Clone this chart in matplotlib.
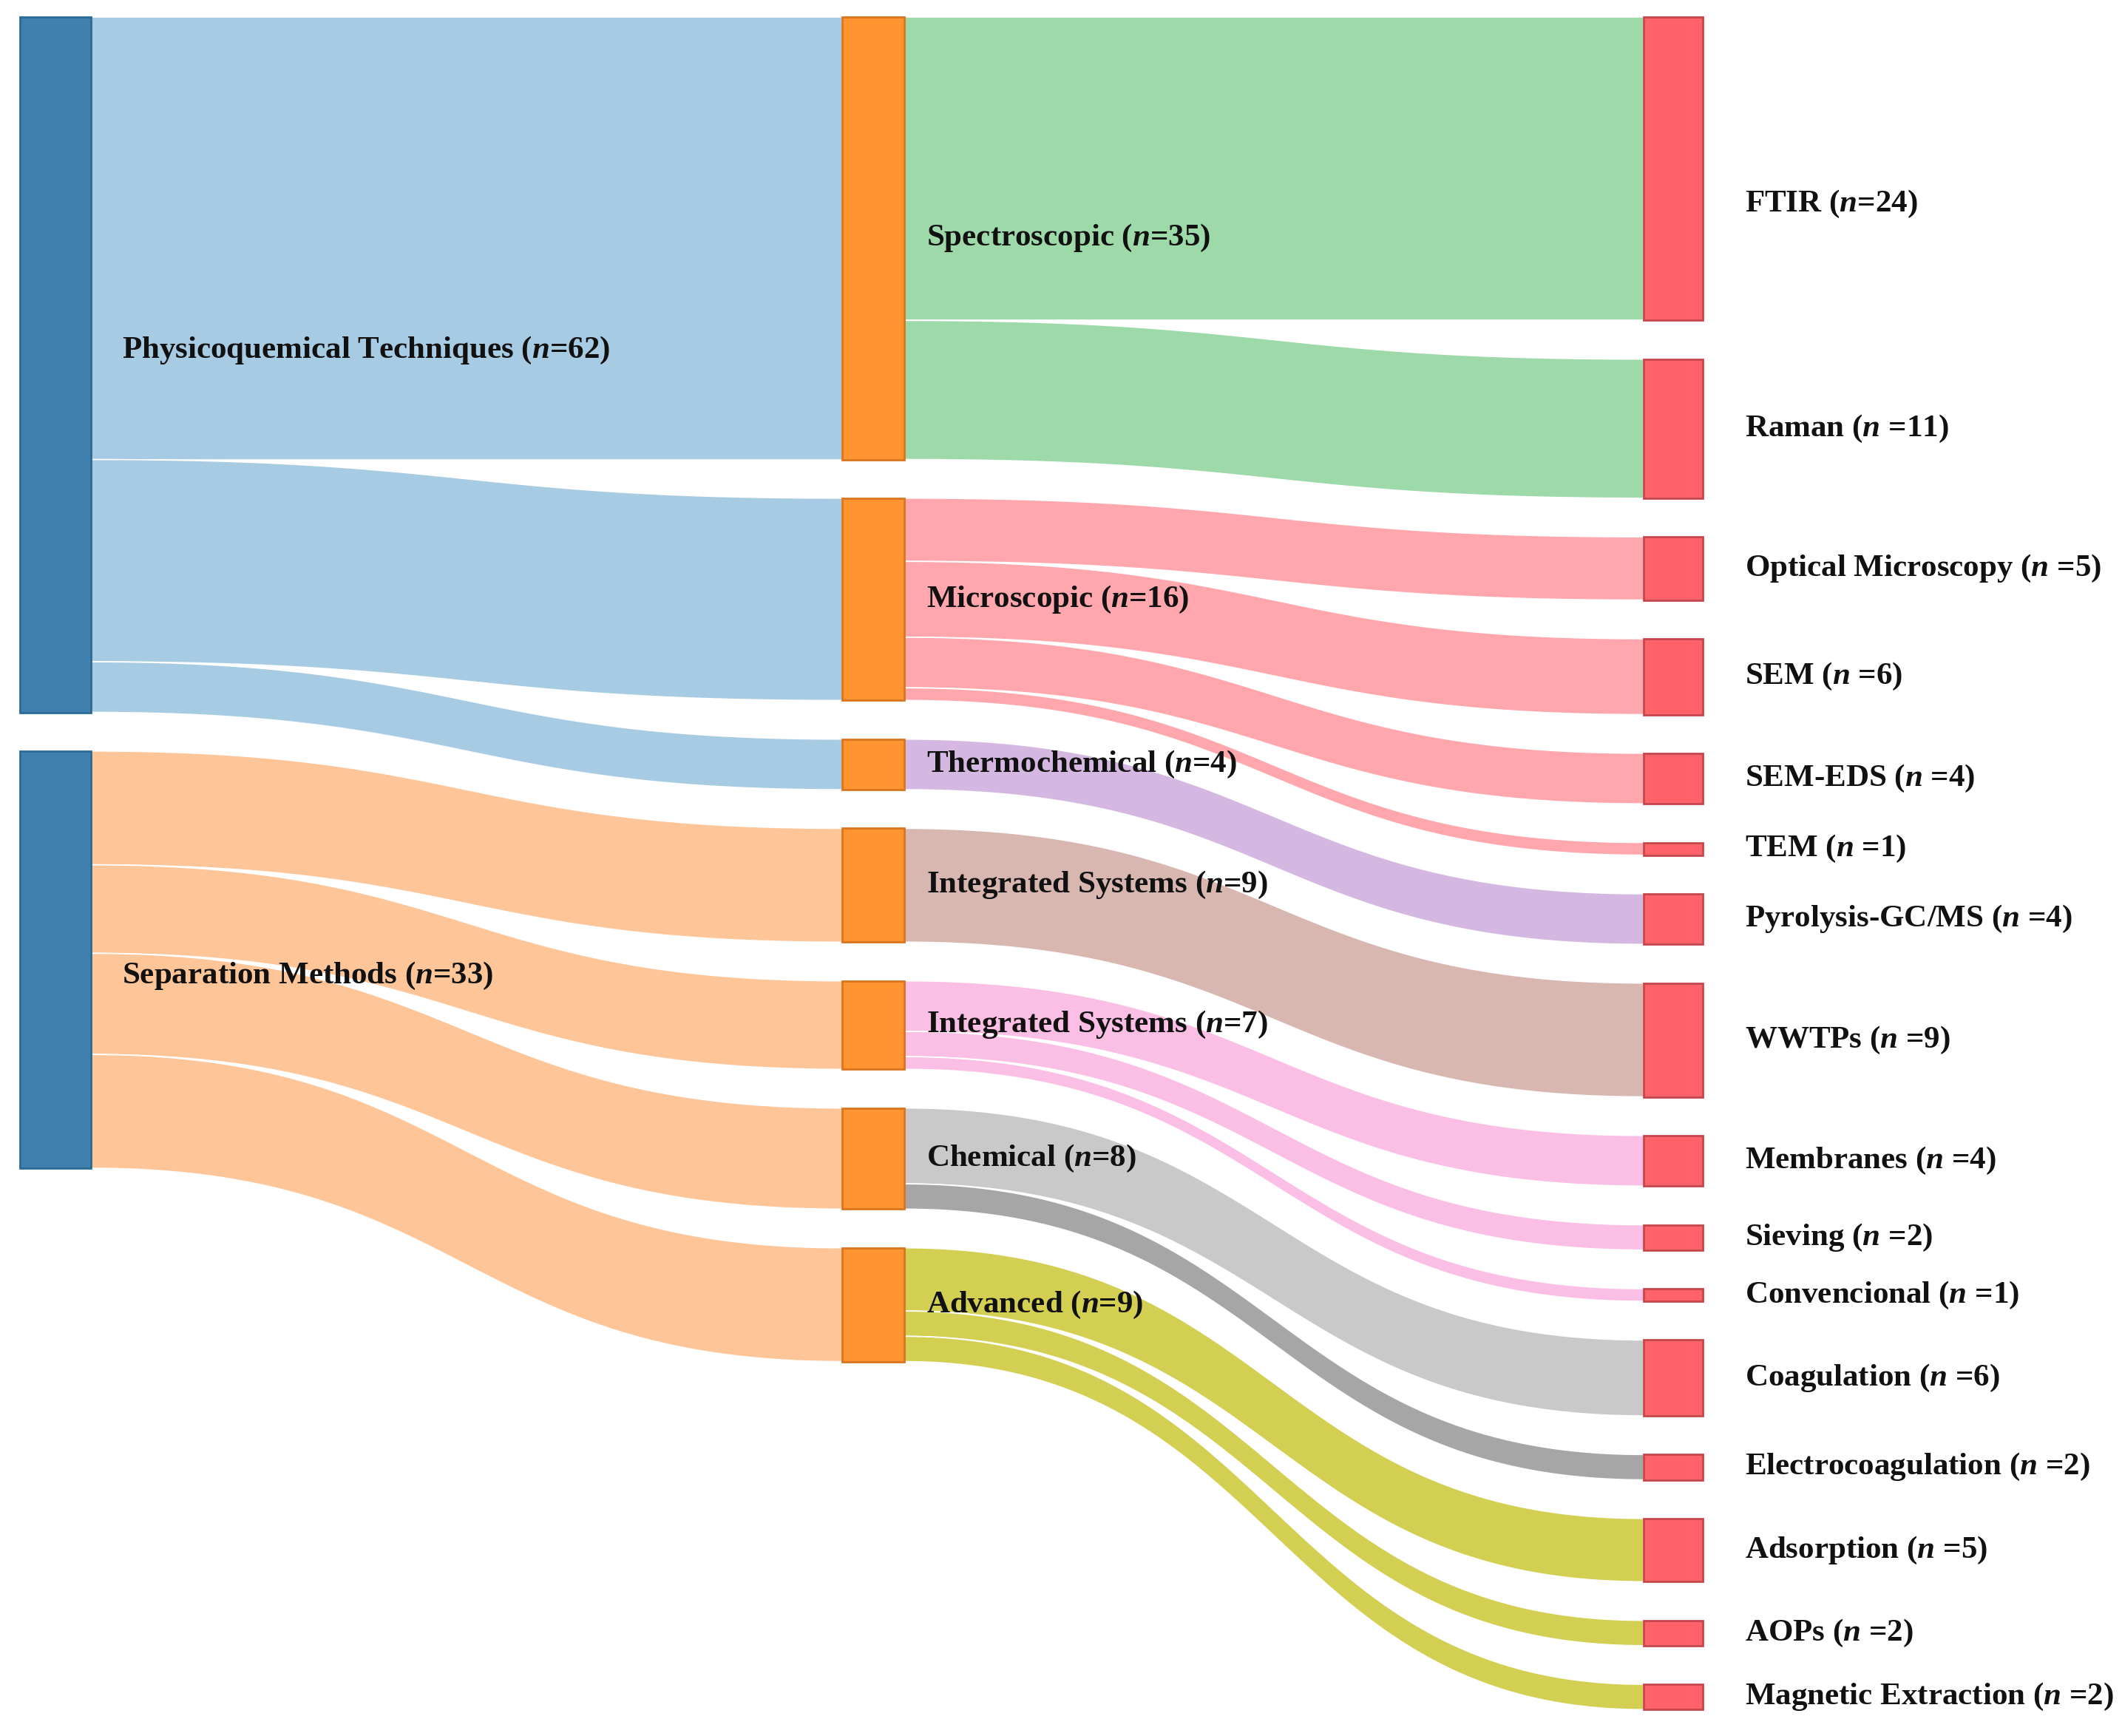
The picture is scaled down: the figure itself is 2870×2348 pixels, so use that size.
import numpy as np
import matplotlib
matplotlib.use('Agg')
import matplotlib.pyplot as plt
from matplotlib.patches import Rectangle

# ---- data -------------------------------------------------------------
level1 = ["Physicoquemical Techniques", "Separation Methods"]
level1_n = [62, 33]

level2 = ["Spectroscopic", "Microscopic", "Thermochemical", "Integrated Systems",
          "Integrated Systems", "Chemical", "Advanced"]
level2_n = [35, 16, 4, 9, 7, 8, 9]
level2_parent = [0, 0, 0, 1, 1, 1, 1]

level3 = ["FTIR", "Raman", "Optical Microscopy", "SEM", "SEM-EDS", "TEM",
          "Pyrolysis-GC/MS", "WWTPs", "Membranes", "Sieving", "Convencional",
          "Coagulation", "Electrocoagulation", "Adsorption", "AOPs",
          "Magnetic Extraction"]
level3_n = [24, 11, 5, 6, 4, 1, 4, 9, 4, 2, 1, 6, 2, 5, 2, 2]
level3_parent = [0, 0, 1, 1, 1, 1, 2, 3, 4, 4, 4, 5, 5, 6, 6, 6]
level3_eq = ["=", " =", " =", " =", " =", " =", " =", " =", " =", " =", " =",
             " =", " =", " =", " =", " ="]

# flow colours
level1_flow_col = ["#a8cbe4", "#fec598"]
level2_flow_col = ["#9ed9a9", "#ffa7ac", "#d4b8e1", "#d8b7b1", "#fbbee4",
                   "#c9c9c9", "#d3cf53"]
level3_flow_col = {"Electrocoagulation": "#a6a6a6"}

# ---- layout -------------------------------------------------------------
W, H = 2870, 2348
UNIT = 17.1          # px per count
PAD = 52.3 / UNIT    # gap between nodes (in counts)
TOP = 23 / UNIT

cols = [(27, 123), (1139, 1223), (2223, 2303)]   # node x extents in px
node_fc = ["#3f80ae", "#ff9431", "#ff6369"]
node_ec = ["#2b6a96", "#d9741f", "#c4474d"]

plt.rcParams['font.family'] = 'Liberation Serif'
plt.rcParams['font.weight'] = 'bold'
plt.rcParams['mathtext.fontset'] = 'custom'
plt.rcParams['mathtext.it'] = 'Liberation Serif:italic:bold'
plt.rcParams['mathtext.rm'] = 'Liberation Serif:bold'

fig = plt.figure(figsize=(W / 100, H / 100), dpi=100)
ax = fig.add_axes([0, 0, 1, 1])
ax.set_xlim(0, W)
ax.set_ylim(H / UNIT - TOP, -TOP)
ax.axis('off')


def stack(sizes):
    tops, y = [], 0.0
    for s in sizes:
        tops.append(y)
        y += s + PAD
    return tops


# node sizes = outgoing totals for sources, value for leaves
l1_size = [sum(v for v, p in zip(level2_n, level2_parent) if p == i)
           for i in range(len(level1))]
l2_size = level2_n
l3_size = level3_n

l1_top = stack(l1_size)
l2_top = stack(l2_size)
l3_top = stack(l3_size)


def band(x0, x1, a0, b0, a1, b1, color):
    t = np.linspace(0, 1, 120)
    xm = (x0 + x1) / 2
    bx = (1 - t) ** 3 * x0 + 3 * (1 - t) ** 2 * t * xm + 3 * (1 - t) * t ** 2 * xm + t ** 3 * x1
    s = 3 * t ** 2 - 2 * t ** 3
    top = a0 + (a1 - a0) * s
    bot = b0 + (b1 - b0) * s
    ax.fill(np.concatenate([bx, bx[::-1]]), np.concatenate([top, bot[::-1]]),
            facecolor=color, edgecolor='white', lw=1.2, zorder=1)


# level1 -> level2 flows
offs = [0.0] * len(level1)
for j, p in enumerate(level2_parent):
    v = level2_n[j]
    y0 = l1_top[p] + offs[p]
    offs[p] += v
    band(cols[0][1], cols[1][0], y0, y0 + v, l2_top[j], l2_top[j] + v,
         level1_flow_col[p])

# level2 -> level3 flows
offs = [0.0] * len(level2)
for k, p in enumerate(level3_parent):
    v = level3_n[k]
    y0 = l2_top[p] + offs[p]
    offs[p] += v
    col = level3_flow_col.get(level3[k], level2_flow_col[p])
    band(cols[1][1], cols[2][0], y0, y0 + v, l3_top[k], l3_top[k] + v, col)

# nodes
for c, (tops, sizes) in enumerate([(l1_top, l1_size), (l2_top, l2_size),
                                   (l3_top, l3_size)]):
    x0, x1 = cols[c]
    for t, s in zip(tops, sizes):
        ax.add_patch(Rectangle((x0, t), x1 - x0, s, facecolor=node_fc[c],
                               edgecolor=node_ec[c], lw=2, zorder=3))

# labels
FS = 31
l1_nudge = [-1.1, 1.3]
for i, name in enumerate(level1):
    y = l1_top[i] + l1_size[i] / 2 + l1_nudge[i]
    ax.text(cols[0][1] + 42, y, f"{name} ($n$={level1_n[i]})", fontsize=FS,
            fontweight='bold', va='center', ha='left', color='#111111', zorder=5)

for j, name in enumerate(level2):
    y = l2_top[j] + l2_size[j] / 2
    ax.text(cols[1][1] + 30, y, f"{name} ($n$={level2_n[j]})", fontsize=FS,
            fontweight='bold', va='center', ha='left', color='#111111', zorder=5)

l3_nudge = {"FTIR": 2.8}
for k, name in enumerate(level3):
    y = l3_top[k] + l3_size[k] / 2 + l3_nudge.get(name, 0)
    ax.text(cols[2][1] + 57, y, f"{name} ($n${level3_eq[k]}{level3_n[k]})",
            fontsize=FS, fontweight='bold', va='center', ha='left',
            color='#111111', zorder=5)

fig.savefig("out.png", dpi=100, facecolor='white')
plt.close(fig)
